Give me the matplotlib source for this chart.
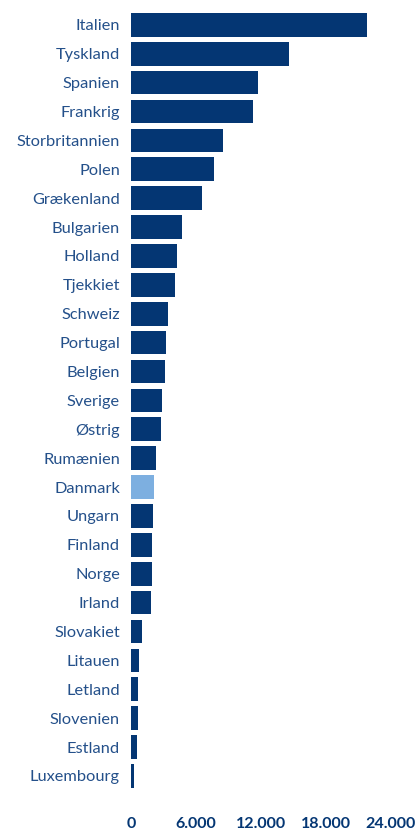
import matplotlib
matplotlib.use("Agg")
import matplotlib.pyplot as plt

countries = ["Italien", "Tyskland", "Spanien", "Frankrig", "Storbritannien", "Polen",
             "Grækenland", "Bulgarien", "Holland", "Tjekkiet", "Schweiz", "Portugal",
             "Belgien", "Sverige", "Østrig", "Rumænien", "Danmark", "Ungarn", "Finland",
             "Norge", "Irland", "Slovakiet", "Litauen", "Letland", "Slovenien", "Estland",
             "Luxembourg"]
values = [21800, 14600, 11700, 11250, 8500, 7650, 6550, 4700, 4250, 4050, 3400, 3230,
          3130, 2860, 2770, 2300, 2120, 2030, 1940, 1940, 1850, 1020, 740, 650, 650, 560, 280]
highlight = "Danmark"
xticks = [0, 6000, 12000, 18000, 24000]
xtick_labels = ["0", "6.000", "12.000", "18.000", "24.000"]

navy = "#043673"
light = "#7DAFE0"
label_color = "#24508A"

plt.rcParams["font.family"] = ["Lato", "DejaVu Sans"]

fig = plt.figure(figsize=(4.2, 8.3), dpi=100)
ax = fig.add_axes([131 / 420, 1 - 790.4 / 830, 260 / 420, 780 / 830])

colors = [light if c == highlight else navy for c in countries]
ypos = list(range(len(countries)))
ax.barh(ypos, values, height=0.82, color=colors)

ax.set_ylim(len(countries) - 0.5, -0.5)
ax.set_xlim(0, 24000)
ax.set_yticks(ypos)
ax.set_yticklabels(countries, fontsize=11.8, color=label_color)
ax.set_xticks(xticks)
ax.set_xticklabels(xtick_labels, fontsize=11.5, fontweight="bold", color=navy)
ax.tick_params(axis="y", length=0, pad=8)
ax.tick_params(axis="x", length=0, pad=19)
for s in ax.spines.values():
    s.set_visible(False)

fig.savefig("out.png", dpi=100)
